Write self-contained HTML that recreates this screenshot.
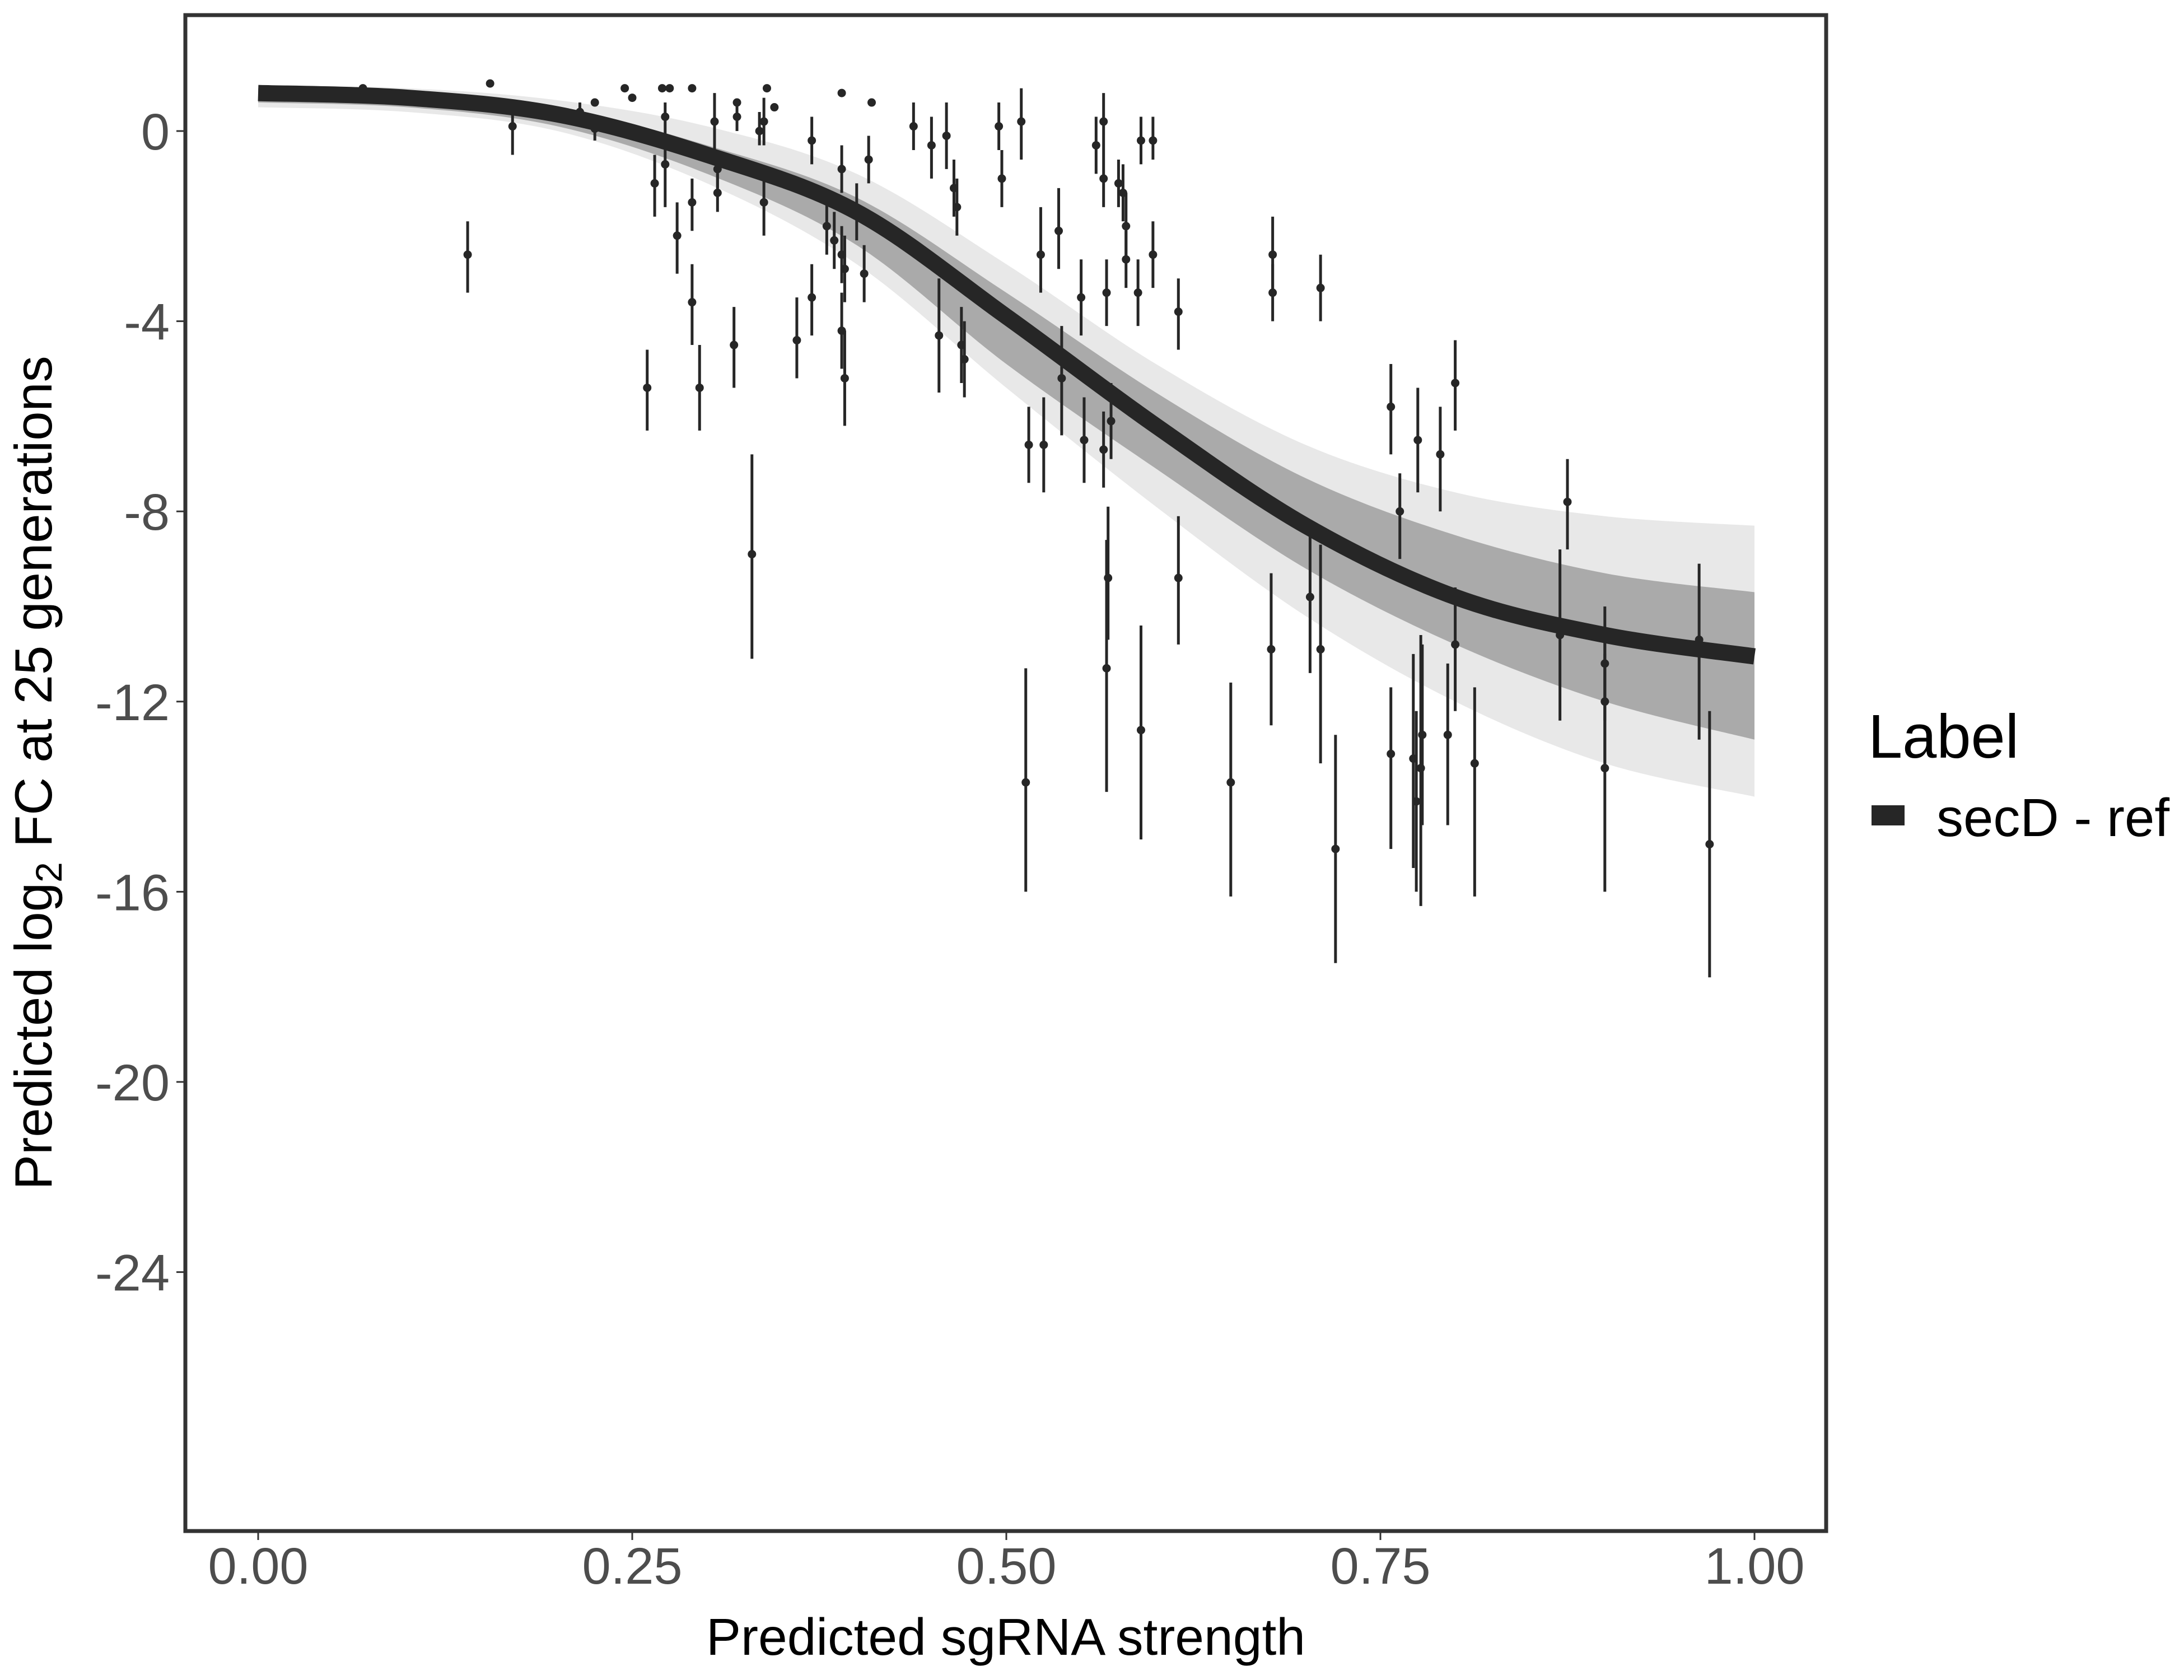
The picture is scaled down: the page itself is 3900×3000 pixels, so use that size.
<!DOCTYPE html>
<html><head><meta charset="utf-8">
<style>
html,body{margin:0;padding:0;background:#fff;}
svg{display:block;font-family:"Liberation Sans",sans-serif;}
</style></head>
<body>
<svg id="chart" width="3900" height="3000" viewBox="0 0 3900 3000" xmlns="http://www.w3.org/2000/svg">
<rect x="0" y="0" width="3900" height="3000" fill="#fff"/>
<g id="band"></g>
<g id="bars"></g>
<g id="pts"></g>
<g id="curve"></g>
<rect x="331" y="27" width="2930" height="2707" fill="none" stroke="#333" stroke-width="7"/>
<g id="axes"></g>
<text x="1796" y="2955" font-size="93" text-anchor="middle" fill="#000">Predicted sgRNA strength</text>
<text transform="translate(92,1380) rotate(-90)" font-size="94" text-anchor="middle" fill="#000">Predicted  log<tspan font-size="66" dy="18">2</tspan><tspan dy="-18"> FC at 25 generations</tspan></text>
<g>
<text x="3336" y="1353" font-size="110" fill="#000">Label</text>
<rect x="3342" y="1438" width="59" height="36" fill="#262626"/>
<text x="3458" y="1493" font-size="96" fill="#000">secD - ref</text>
</g>
</svg>
<script>
const xTicks=[0,0.25,0.5,0.75,1];
const xTickLabels=["0.00","0.25","0.50","0.75","1.00"];
const yTicks=[0,-4,-8,-12,-16,-20,-24];
const yTickLabels=["0","-4","-8","-12","-16","-20","-24"];
const curveX=[0,0.1,0.2,0.3,0.4,0.5,0.6,0.7,0.8,0.9,1.0];
const curveY=[0.8,0.7,0.35,-0.5,-1.7,-3.9,-6.2,-8.3,-9.8,-10.6,-11.05];
const outerUpper=[0.95,0.9,0.65,0.1,-0.9,-2.8,-4.9,-6.6,-7.6,-8.1,-8.3];
const coreUpper=[0.9,0.8,0.5,-0.3,-1.4,-3.4,-5.5,-7.3,-8.5,-9.3,-9.7];
const coreLower=[0.6,0.5,0.1,-0.9,-2.4,-4.9,-7.1,-9.2,-10.8,-12.0,-12.8];
const outerLower=[0.5,0.4,0.0,-1.1,-2.8,-5.4,-7.9,-10.2,-12.0,-13.3,-14.0];
const ptX=[0.07,0.14,0.155,0.17,0.215,0.225,0.225,0.245,0.25,0.26,0.265,0.27,0.272,0.272,0.275,0.28,0.29,0.29,0.29,0.295,0.305,0.307,0.307,0.32,0.32,0.318,0.33,0.335,0.338,0.338,0.34,0.345,0.36,0.37,0.37,0.38,0.385,0.39,0.39,0.392,0.39,0.392,0.39,0.4,0.405,0.408,0.41,0.438,0.45,0.455,0.46,0.465,0.467,0.47,0.472,0.495,0.497,0.51,0.515,0.513,0.523,0.525,0.535,0.537,0.55,0.552,0.56,0.565,0.565,0.567,0.565,0.568,0.567,0.57,0.575,0.578,0.58,0.58,0.588,0.59,0.59,0.598,0.598,0.615,0.615,0.65,0.678,0.678,0.677,0.703,0.71,0.71,0.72,0.757,0.757,0.763,0.772,0.774,0.775,0.777,0.778,0.79,0.795,0.8,0.8,0.813,0.87,0.875,0.9,0.9,0.9,0.963,0.97];
const ptY=[0.9,-2.6,1.0,0.1,0.4,0.6,0.05,0.9,0.7,-5.4,-1.1,0.9,0.3,-0.7,0.9,-2.2,0.9,-1.5,-3.6,-5.4,0.2,-0.8,-1.3,0.6,0.3,-4.5,-8.9,0.0,0.2,-1.5,0.9,0.5,-4.4,-0.2,-3.5,-2.0,-2.3,-2.6,-4.2,-5.2,-0.8,-2.9,0.8,-1.7,-3.0,-0.6,0.6,0.1,-0.3,-4.3,-0.1,-1.2,-1.6,-4.5,-4.8,0.1,-1.0,0.2,-6.6,-13.7,-2.6,-6.6,-2.1,-5.2,-3.5,-6.5,-0.3,0.2,-1.0,-3.4,-6.7,-9.4,-11.3,-6.1,-1.1,-1.3,-2.0,-2.7,-3.4,-0.2,-12.6,-0.2,-2.6,-3.8,-9.4,-13.7,-2.6,-3.4,-10.9,-9.8,-3.3,-10.9,-15.1,-5.8,-13.1,-8.0,-13.2,-14.1,-6.5,-13.4,-12.7,-6.8,-12.7,-5.3,-10.8,-13.3,-10.6,-7.8,-11.2,-12.0,-13.4,-10.7,-15.0];
const errLo=[0.9,-3.4,1.0,-0.5,0.1,0.6,-0.2,0.9,0.7,-6.3,-1.8,0.9,0.0,-1.6,0.9,-3.0,0.9,-2.1,-4.5,-6.3,-0.6,-1.2,-1.7,0.6,0.0,-5.4,-11.1,-0.3,-0.3,-2.2,0.9,0.5,-5.2,-0.7,-4.3,-2.6,-2.9,-3.2,-5.0,-6.2,-1.3,-3.6,0.8,-2.3,-3.6,-1.1,0.6,-0.4,-1.0,-5.5,-0.8,-1.8,-2.2,-5.3,-5.6,-0.4,-1.6,-0.6,-7.4,-16.0,-3.4,-7.6,-2.9,-6.4,-4.3,-7.4,-0.9,-0.4,-1.6,-4.1,-7.5,-10.7,-13.9,-6.9,-1.6,-1.9,-2.7,-3.3,-4.1,-0.7,-14.9,-0.6,-3.3,-4.6,-10.8,-16.1,-3.4,-4.0,-12.5,-11.4,-4.0,-13.3,-17.5,-6.8,-15.1,-9.0,-15.5,-16.0,-7.6,-16.3,-14.6,-8.0,-14.6,-6.3,-12.2,-16.1,-12.4,-8.8,-12.4,-13.3,-16.0,-12.8,-17.8];
const errHi=[0.9,-1.9,1.0,0.6,0.6,0.6,0.3,0.9,0.7,-4.6,-0.5,0.9,0.6,0.0,0.9,-1.5,0.9,-1.0,-2.8,-4.5,0.8,-0.4,-0.9,0.6,0.6,-3.7,-6.8,0.4,0.7,-0.8,0.9,0.5,-3.5,0.3,-2.8,-1.4,-1.7,-2.0,-3.4,-4.2,-0.3,-2.2,0.8,-1.1,-2.4,-0.1,0.6,0.6,0.3,-3.1,0.6,-0.6,-1.0,-3.7,-4.0,0.6,-0.4,0.9,-5.8,-11.3,-1.6,-5.6,-1.2,-4.1,-2.7,-5.6,0.3,0.8,-0.4,-2.7,-5.9,-7.9,-8.6,-5.3,-0.6,-0.7,-1.3,-2.1,-2.7,0.3,-10.4,0.3,-1.9,-3.1,-8.1,-11.6,-1.8,-2.8,-9.3,-8.3,-2.6,-8.7,-12.7,-4.9,-11.7,-7.2,-11.0,-12.2,-5.4,-10.6,-10.8,-5.8,-11.2,-4.4,-9.6,-11.7,-8.8,-6.9,-10.0,-10.7,-11.0,-9.1,-12.2];

const NS="http://www.w3.org/2000/svg";
const X0=461,X1=3133,Y0=234,YPU=84.9;
function sx(v){return X0+(X1-X0)*v;}
function sy(v){return Y0-v*YPU;}
function mk(tag,attrs,parent){const e=document.createElementNS(NS,tag);for(const k in attrs)e.setAttribute(k,attrs[k]);parent.appendChild(e);return e;}
function smooth(xs,ys){
  const p=xs.map((x,i)=>[sx(x),sy(ys[i])]);
  let d="M"+p[0][0]+","+p[0][1];
  for(let i=0;i<p.length-1;i++){
    const a=p[Math.max(0,i-1)],b=p[i],c=p[i+1],e=p[Math.min(p.length-1,i+2)];
    d+=" C"+(b[0]+(c[0]-a[0])/6)+","+(b[1]+(c[1]-a[1])/6)+" "+(c[0]-(e[0]-b[0])/6)+","+(c[1]-(e[1]-b[1])/6)+" "+c[0]+","+c[1];
  }
  return d;
}
function bandPath(up,lo){
  const revX=curveX.slice().reverse(),revLo=lo.slice().reverse();
  return smooth(curveX,up)+" L"+smooth(revX,revLo).slice(1)+" Z";
}
const band=document.getElementById('band');
const ob=mk('path',{d:bandPath(outerUpper,outerLower),fill:"#e8e8e8"},band);


const cb=mk('path',{d:bandPath(coreUpper,coreLower),fill:"#aaaaaa"},band);



const bars=document.getElementById('bars'),pts=document.getElementById('pts');
for(let i=0;i<ptX.length;i++){
  if(errHi[i]!==errLo[i]){
    const l=mk('line',{x1:sx(ptX[i]),x2:sx(ptX[i]),y1:sy(errHi[i]),y2:sy(errLo[i]),stroke:"#262626","stroke-width":5},bars);
    
    
  }
  const c=mk('circle',{cx:sx(ptX[i]),cy:sy(ptY[i]),r:7.5,fill:"#262626"},pts);
  
  
}
const cv=mk('path',{d:smooth(curveX,curveY),fill:"none",stroke:"#262626","stroke-width":29,"stroke-linecap":"butt"},document.getElementById('curve'));



const axes=document.getElementById('axes');
xTicks.forEach((t,i)=>{
  const l=mk('line',{x1:sx(t),x2:sx(t),y1:2737,y2:2750,stroke:"#333","stroke-width":3},axes);
  
  
  const tx=mk('text',{x:sx(t),y:2828,"font-size":92,"text-anchor":"middle",fill:"#4d4d4d"},axes);
  tx.textContent=xTickLabels[i];
  
  
});
yTicks.forEach((t,i)=>{
  const l=mk('line',{x1:315,x2:328,y1:sy(t),y2:sy(t),stroke:"#333","stroke-width":3},axes);
  
  
  const tx=mk('text',{x:303,y:sy(t)+33,"font-size":92,"text-anchor":"end",fill:"#4d4d4d"},axes);
  tx.textContent=yTickLabels[i];
  
  
});
</script>
</body></html>
